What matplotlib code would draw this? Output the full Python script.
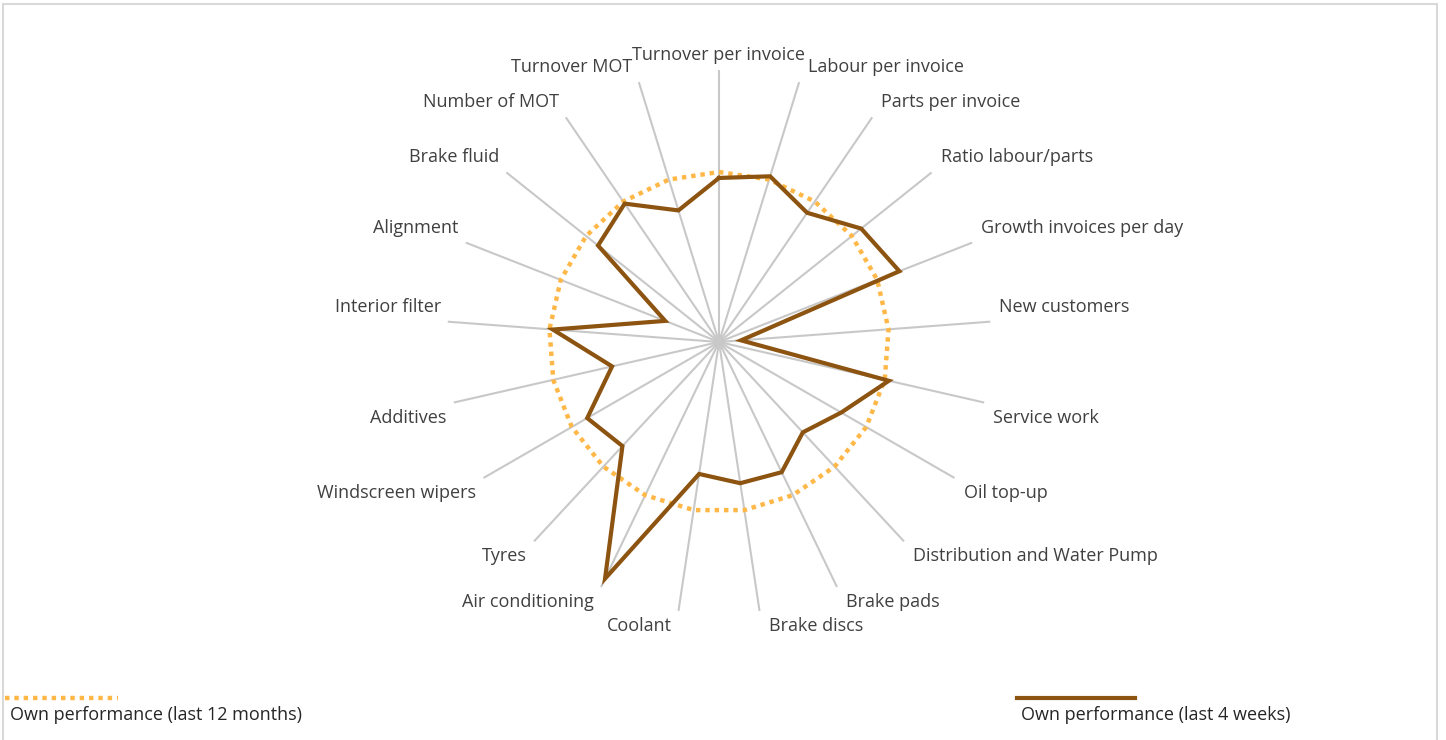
import numpy as np
import matplotlib.pyplot as plt
from matplotlib.patches import Rectangle
from matplotlib.lines import Line2D

plt.rcParams['font.family'] = ['Open Sans', 'DejaVu Sans']

# categories, clockwise from the top
categories = ["Turnover per invoice", "Labour per invoice", "Parts per invoice",
              "Ratio labour/parts", "Growth invoices per day", "New customers",
              "Service work", "Oil top-up", "Distribution and Water Pump",
              "Brake pads", "Brake discs", "Coolant", "Air conditioning", "Tyres",
              "Windscreen wipers", "Additives", "Interior filter", "Alignment",
              "Brake fluid", "Number of MOT", "Turnover MOT"]
last_12_months = [100] * 21
last_4_weeks = [96.5, 102, 92, 107, 114, 13, 102.5, 83, 72.5, 85, 84, 78.5,
                154.5, 83.5, 89.5, 64.5, 98, 34, 91, 98.5, 81]
series_labels = ["Own performance (last 12 months)", "Own performance (last 4 weeks)"]
r_max = 160

yellow = '#FFB848'
brown = '#8C5410'
text_col = '#404040'

fig = plt.figure(figsize=(14.46, 7.40), dpi=100)
# grey chart frame
fig.add_artist(Rectangle((3 / 1446, -0.01), 1434 / 1446, 1 - 4 / 740 + 0.01,
                         transform=fig.transFigure, fill=False,
                         edgecolor='#D9D9D9', linewidth=1.5))

ax = fig.add_axes([447 / 1446, 126 / 740, 544 / 1446, 544 / 740], projection='polar')
ax.set_theta_zero_location('N')
ax.set_theta_direction(-1)

n = len(categories)
angles = np.arange(n) * 2 * np.pi / n
closed = np.append(angles, angles[0])

ax.plot(closed, last_12_months + last_12_months[:1], color=yellow, linewidth=3.2,
        linestyle=(0, (1, 1.1)), zorder=3)
ax.plot(closed, last_4_weeks + last_4_weeks[:1], color=brown, linewidth=3,
        solid_joinstyle='miter', zorder=4)

ax.set_ylim(0, r_max)
ax.set_yticks([])
ax.set_xticks(angles)
ax.set_xticklabels([])
ax.xaxis.grid(True, color='#C8C8C8', linewidth=1.5)
ax.spines['polar'].set_visible(False)
ax.set_facecolor('none')

# category labels at the spoke ends, Excel-style offsets
for a, lab in zip(angles, categories):
    sx, cy = np.sin(a), np.cos(a)
    if abs(sx) < 1e-6:
        ha, dx = 'center', 0
    elif sx > 0:
        ha, dx = 'left', 9
    else:
        ha, dx = 'right', -7
    dy = 15 if cy > 0 else -15
    ax.annotate(lab, xy=(a, r_max), xytext=(dx, dy), textcoords='offset pixels',
                ha=ha, va='center', fontsize=13, color=text_col,
                annotation_clip=False)

# legend in the corners, line above text
fig.add_artist(Line2D([5 / 1446, 118 / 1446], [1 - 698 / 740] * 2, color=yellow,
                      linewidth=3.2, linestyle=(0, (1, 1.1))))
fig.text(10 / 1446, 1 - 715 / 740, series_labels[0], ha='left', va='center',
         fontsize=13, color='#262626')
fig.add_artist(Line2D([1017 / 1446, 1135 / 1446], [1 - 698 / 740] * 2, color=brown,
                      linewidth=3))
fig.text(1021 / 1446, 1 - 715 / 740, series_labels[1], ha='left', va='center',
         fontsize=13, color='#262626')

fig.savefig('out.png', dpi=100, facecolor='white')
